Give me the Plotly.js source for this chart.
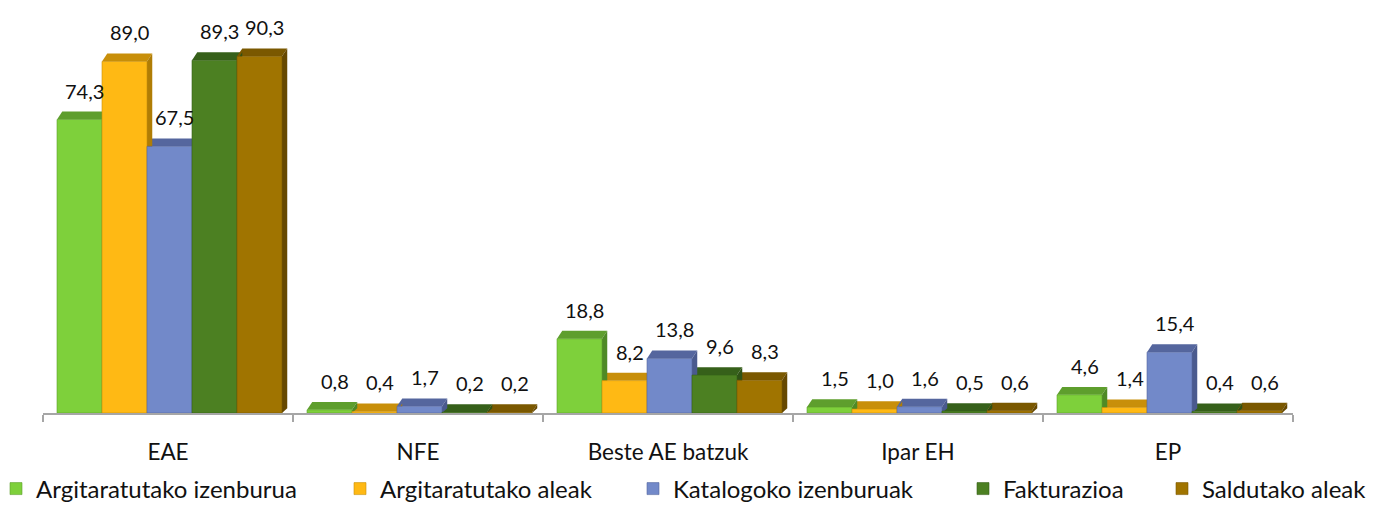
<!DOCTYPE html>
<html>
<head>
<meta charset="utf-8">
<script src="https://cdn.plot.ly/plotly-3.0.1.min.js"></script>
<style>html,body{margin:0;padding:0;background:#fff;}#chart{width:1374px;height:507px;}</style>
</head>
<body>
<div id="chart"></div>
<script>
const categories = ['EAE', 'NFE', 'Beste AE batzuk', 'Ipar EH', 'EP'];
const seriesNames = ['Argitaratutako izenburua', 'Argitaratutako aleak', 'Katalogoko izenburuak', 'Fakturazioa', 'Saldutako aleak'];
const argIzenburua = [74.3, 0.8, 18.8, 1.5, 4.6];
const argAleak = [89.0, 0.4, 8.2, 1.0, 1.4];
const katIzenburuak = [67.5, 1.7, 13.8, 1.6, 15.4];
const fakturazioa = [89.3, 0.2, 9.6, 0.5, 0.4];
const saldAleak = [90.3, 0.2, 8.3, 0.6, 0.6];

const seriesValues = [argIzenburua, argAleak, katIzenburuak, fakturazioa, saldAleak];
const frontColors = ['#7ED03B', '#FFB914', '#7289C9', '#4C8022', '#A07400'];
const capColors = ['#5E9E2D', '#C88F0A', '#55669E', '#36601A', '#7A5800'];
const sideColors = ['#4E8A25', '#B07D05', '#4A5A8E', '#2E5215', '#664800'];
const legendLeftPx = [10, 354, 647, 977, 1176];

const W = 1374, H = 507, ML = 43, MR = 81, MT = 18, MB = 94;
const barW = 0.18, start = -0.444, dx = 0.021, dy = 2.0;
const fontFam = 'Lato, "Open Sans", sans-serif';
const fmt = v => v.toFixed(1).replace('.', ',');
const legendKey = j => j === 0 ? 'legend' : 'legend' + (j + 1);

const traces = seriesValues.map((vals, j) => ({
  type: 'bar',
  name: seriesNames[j],
  legend: legendKey(j),
  x: categories,
  y: vals,
  width: barW,
  offset: start + j * barW,
  marker: {color: frontColors[j], line: {color: capColors[j], width: 0.6}},
  hoverinfo: 'x+y+name'
}));

const caps = [], sides = [], annotations = [];
seriesValues.forEach((vals, j) => {
  vals.forEach((v, i) => {
    const x0 = i + start + j * barW, x1 = x0 + barW;
    caps.push({type: 'path', xref: 'x', yref: 'y', layer: 'below',
      path: `M${x0},${v} L${x1},${v} L${x1 + dx},${v + dy} L${x0 + dx},${v + dy} Z`,
      fillcolor: capColors[j], line: {width: 0}});
    sides.push({type: 'path', xref: 'x', yref: 'y', layer: 'below',
      path: `M${x1},0 L${x1 + dx},${dy * 0.6} L${x1 + dx},${v + dy} L${x1},${v} Z`,
      fillcolor: sideColors[j], line: {width: 0}});
    annotations.push({xref: 'x', yref: 'y', x: x0 + barW / 2 + 0.02, y: v, yshift: 29,
      yanchor: 'middle', xanchor: 'center', showarrow: false, text: fmt(v),
      font: {family: fontFam, size: 20, color: '#111'}});
  });
});

const plotW = W - ML - MR, plotH = H - MT - MB;
const layout = {
  width: W, height: H,
  margin: {l: ML, r: MR, t: MT, b: MB, autoexpand: false},
  paper_bgcolor: '#fff', plot_bgcolor: '#fff',
  barmode: 'group',
  showlegend: true,
  font: {family: fontFam, color: '#111'},
  xaxis: {
    type: 'category', range: [-0.5, 4.5], fixedrange: true,
    showline: true, linecolor: '#A6A6A6', linewidth: 1.5,
    ticks: 'outside', tickson: 'boundaries', ticklen: 7, tickcolor: '#A6A6A6', tickwidth: 1.5,
    ticklabelstandoff: 18,
    tickfont: {family: fontFam, size: 22.5, color: '#111'},
    showgrid: false, zeroline: false
  },
  yaxis: {range: [0, 100], visible: false, showgrid: false, zeroline: false, fixedrange: true},
  shapes: caps.concat(sides),
  annotations: annotations
};
legendLeftPx.forEach((px, j) => {
  layout[legendKey(j)] = {
    orientation: 'h', x: (px - 14 - ML) / plotW, xanchor: 'left',
    y: -(489 - (H - MB)) / plotH, yanchor: 'middle',
    font: {family: fontFam, size: 24, color: '#111'}, itemwidth: 30,
    bgcolor: 'rgba(0,0,0,0)', borderwidth: 0
  };
});

Plotly.newPlot('chart', traces, layout, {displayModeBar: false, staticPlot: true});
</script>
</body>
</html>
